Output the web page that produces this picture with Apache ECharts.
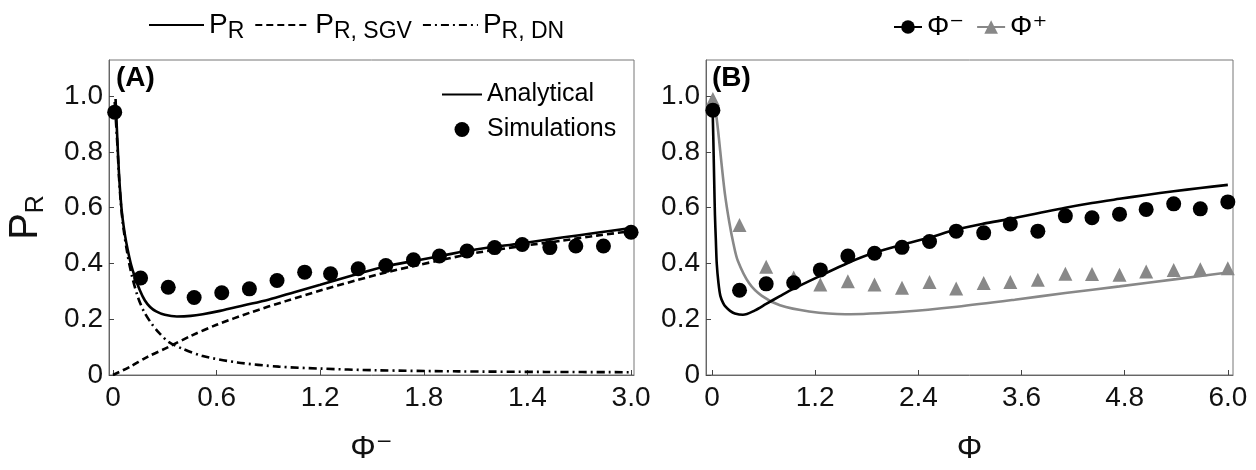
<!DOCTYPE html>
<html><head><meta charset="utf-8">
<script src="https://cdn.jsdelivr.net/npm/echarts@6/dist/echarts.min.js"></script>
<style>html,body{margin:0;padding:0;background:#fff}#c{width:1256px;height:470px}</style>
</head><body><div id="c"></div>
<script>
// ---- tick values / labels ----
const aTickVals = [0, 0.6, 1.2, 1.8, 2.4, 3.0];
const aTickLabels = ['0', '0.6', '1.2', '1.8', '1.4', '3.0'];
const bTickVals = [0, 1.2, 2.4, 3.6, 4.8, 6.0];
const bTickLabels = ['0', '1.2', '2.4', '3.6', '4.8', '6.0'];
const yTickVals = [0, 0.2, 0.4, 0.6, 0.8, 1.0];
const yTickLabels = ['0', '0.2', '0.4', '0.6', '0.8', '1.0'];

// ---- panel A : P_R (analytical, solid) ----
const aPR_x = [0.015,0.025,0.035,0.045,0.055,0.07,0.085,0.105,0.125,0.155,0.184,0.215,0.25,0.3,0.37,0.45,0.52,0.62,0.76,0.9,1.05,1.2,1.4,1.58,1.75,1.92,2.1,2.36,2.6,2.8,3.0];
const aPR_y = [0.99,0.85,0.72,0.63,0.565,0.50,0.45,0.395,0.355,0.305,0.268,0.244,0.228,0.216,0.21,0.212,0.218,0.23,0.25,0.27,0.297,0.324,0.36,0.39,0.41,0.43,0.45,0.472,0.493,0.51,0.527];
// ---- panel A : P_R,SGV (dashed) ----
const aSGV_x = [0,0.1,0.2,0.32,0.45,0.6,0.8,1.0,1.2,1.4,1.58,1.75,1.92,2.1,2.36,2.6,2.8,3.0];
const aSGV_y = [0,0.03,0.065,0.10,0.14,0.18,0.225,0.265,0.303,0.338,0.368,0.392,0.415,0.438,0.462,0.482,0.5,0.516];
// ---- panel A : P_R,DN (dash-dot) ----
const aDN_x = [0.01,0.025,0.035,0.045,0.06,0.085,0.11,0.144,0.18,0.224,0.27,0.324,0.4,0.52,0.72,0.96,1.2,1.52,2.0,2.5,3.0];
const aDN_y = [0.98,0.83,0.71,0.62,0.53,0.43,0.355,0.28,0.227,0.184,0.149,0.118,0.095,0.068,0.045,0.03,0.023,0.017,0.013,0.011,0.01];
// ---- panel A : simulations ----
const aSim_x = [0.01,0.16,0.32,0.47,0.63,0.79,0.95,1.11,1.26,1.42,1.58,1.74,1.89,2.05,2.21,2.37,2.53,2.68,2.84,3.0];
const aSim_y = [0.943,0.348,0.315,0.278,0.295,0.309,0.339,0.369,0.363,0.381,0.393,0.413,0.427,0.445,0.457,0.468,0.457,0.463,0.463,0.512];

// ---- panel B : analytical curves ----
const bMinus_x = [0.005,0.015,0.025,0.034,0.045,0.055,0.075,0.097,0.13,0.16,0.21,0.265,0.36,0.5,0.63,0.79,0.95,1.26,1.58,1.9,2.22,2.52,2.84,3.16,3.47,3.79,4.11,4.42,4.74,5.05,5.37,5.68,6.0];
const bMinus_y = [0.98,0.85,0.70,0.574,0.48,0.40,0.33,0.284,0.258,0.244,0.23,0.221,0.216,0.232,0.255,0.283,0.31,0.356,0.402,0.44,0.468,0.492,0.522,0.543,0.56,0.58,0.6,0.617,0.632,0.646,0.659,0.671,0.682];
const bPlus_x = [0.02,0.05,0.08,0.11,0.15,0.2,0.25,0.3,0.43,0.58,0.79,1.13,1.55,2.26,2.85,3.52,4.11,4.74,5.4,6.0];
const bPlus_y = [0.99,0.93,0.85,0.76,0.65,0.55,0.47,0.41,0.33,0.284,0.25,0.228,0.218,0.228,0.245,0.27,0.294,0.318,0.344,0.368];
// ---- panel B : simulations ----
const bSim_x = [0.01,0.32,0.63,0.95,1.26,1.58,1.89,2.21,2.53,2.84,3.16,3.47,3.79,4.11,4.42,4.74,5.05,5.37,5.68,6.0];
const bSimMinus_y = [0.95,0.304,0.327,0.331,0.377,0.427,0.437,0.458,0.479,0.516,0.51,0.542,0.516,0.571,0.564,0.577,0.594,0.614,0.596,0.621];
const bSimPlus_y = [0.99,0.538,0.388,0.35,0.325,0.336,0.325,0.313,0.334,0.31,0.33,0.334,0.342,0.363,0.362,0.36,0.371,0.377,0.379,0.383];

const zip = (xs, ys) => xs.map((x, i) => [x, ys[i]]);
const FF = "'Liberation Sans', Arial, 'DejaVu Sans', sans-serif";
const pick = (vals, labels) => v => { const i = vals.findIndex(t => Math.abs(t - v) < 1e-9); return i < 0 ? '' : labels[i]; };

const chart = echarts.init(document.getElementById('c'), null, {renderer: 'canvas'});

function xAxisCfg(gi, min, max, vals, labels, name) {
  return {
    gridIndex: gi, type: 'value', min: min, max: max,
    splitLine: {show: false},
    axisLine: {onZero: false, lineStyle: {color: '#666', width: 1}},
    axisTick: {inside: true, length: 5, customValues: vals, lineStyle: {color: '#444'}},
    axisLabel: {customValues: vals, formatter: pick(vals, labels), fontSize: 28, color: '#111', margin: 9, fontFamily: FF},
    name: name, nameLocation: 'middle', nameGap: 58,
    nameTextStyle: {fontSize: 32, color: '#111', fontFamily: FF}
  };
}
function yAxisCfg(gi, withName) {
  const c = {
    gridIndex: gi, type: 'value', min: 0, max: 1.13,
    splitLine: {show: false},
    axisLine: {onZero: false, lineStyle: {color: '#666', width: 1}},
    axisTick: {inside: true, length: 5, customValues: yTickVals, lineStyle: {color: '#444'}},
    axisLabel: {customValues: yTickVals, formatter: pick(yTickVals, yTickLabels), fontSize: 28, color: '#111', margin: 6, fontFamily: FF}
  };
  if (withName) {
    c.name = '{m|P}{s|R}';
    c.nameLocation = 'middle';
    c.nameRotate = 90;
    c.nameGap = 60;
    c.nameTextStyle = {fontFamily: FF, color: '#111', rich: {
      m: {fontSize: 40, lineHeight: 46, fontFamily: FF, color: '#111'},
      s: {fontSize: 25, lineHeight: 25, verticalAlign: 'bottom', fontFamily: FF, color: '#111'}
    }};
  }
  return c;
}

const legendNames = {PR: '{m|P}{s|R}', PRSGV: '{m|P}{s|R, SGV}', PRDN: '{m|P}{s|R, DN}'};
const noSym = {opacity: 0};

const option = {
  backgroundColor: '#fff',
  animation: false,
  title: [
    {text: '(A)', left: 116, top: 64, padding: 0, textStyle: {fontSize: 28, fontWeight: 'bold', fontFamily: FF, color: '#000'}},
    {text: '(B)', left: 712, top: 64, padding: 0, textStyle: {fontSize: 28, fontWeight: 'bold', fontFamily: FF, color: '#000'}}
  ],
  grid: [
    {left: 109, top: 60, width: 525, height: 324, show: true, borderColor: '#777', borderWidth: 1, containLabel: false},
    {left: 706, top: 60, width: 527, height: 324, show: true, borderColor: '#777', borderWidth: 1, containLabel: false}
  ],
  xAxis: [
    xAxisCfg(0, -0.023, 3.017, aTickVals, aTickLabels, 'Φ⁻'),
    xAxisCfg(1, -0.07, 6.06, bTickVals, bTickLabels, 'Φ')
  ],
  yAxis: [yAxisCfg(0, true), yAxisCfg(1, false)],
  legend: [
    {
      data: [{name: 'PR', itemStyle: noSym}, {name: 'PRSGV', itemStyle: noSym}, {name: 'PRDN', itemStyle: noSym}],
      left: 143, top: 6, itemWidth: 55, itemHeight: 14, itemGap: 10,
      selectedMode: false, formatter: n => legendNames[n],
      textStyle: {fontFamily: FF, color: '#000', rich: {
        m: {fontSize: 28, lineHeight: 36, fontFamily: FF, color: '#000'},
        s: {fontSize: 23, lineHeight: 23, verticalAlign: 'bottom', fontFamily: FF, color: '#000'}
      }}
    },
    {
      data: [{name: 'Analytical', itemStyle: noSym}, 'Simulations'], orient: 'vertical', left: 436, top: 77, itemWidth: 40, itemHeight: 15, itemGap: 10,
      selectedMode: false, textStyle: {fontSize: 25, fontFamily: FF, color: '#000'}
    },
    {
      data: ['Φ⁻', 'Φ⁺'], left: 888, top: 8, itemWidth: 28, itemHeight: 17, itemGap: 12,
      selectedMode: false, textStyle: {fontSize: 28, fontFamily: FF, color: '#000'}
    }
  ],
  series: [
    {name: 'PR', type: 'line', xAxisIndex: 0, yAxisIndex: 0, data: zip(aPR_x, aPR_y), smooth: 0.3, symbol: 'none',
     lineStyle: {color: '#000', width: 2.6}, itemStyle: {color: '#000'}, z: 3},
    {name: 'PRSGV', type: 'line', xAxisIndex: 0, yAxisIndex: 0, data: zip(aSGV_x, aSGV_y), smooth: 0.3, symbol: 'none',
     lineStyle: {color: '#000', width: 2.6, type: [7, 4]}, itemStyle: {color: '#000'}, z: 2},
    {name: 'PRDN', type: 'line', xAxisIndex: 0, yAxisIndex: 0, data: zip(aDN_x, aDN_y), smooth: 0.3, symbol: 'none',
     lineStyle: {color: '#000', width: 2.6, type: [8, 4, 2, 4]}, itemStyle: {color: '#000'}, z: 2},
    {name: 'Analytical', type: 'line', xAxisIndex: 0, yAxisIndex: 0, data: [], symbol: 'none',
     lineStyle: {color: '#000', width: 2.6}, itemStyle: {color: '#000'}},
    {name: 'Simulations', type: 'scatter', xAxisIndex: 0, yAxisIndex: 0, data: zip(aSim_x, aSim_y), symbol: 'circle', symbolSize: 15,
     itemStyle: {color: '#000', opacity: 1}, z: 5},

    {name: 'Φ⁻', type: 'line', xAxisIndex: 1, yAxisIndex: 1, data: zip(bMinus_x, bMinus_y), smooth: 0.3, symbol: 'circle', symbolSize: 15, showSymbol: false,
     lineStyle: {color: '#000', width: 2.6}, itemStyle: {color: '#000'}, z: 3},
    {name: 'Φ⁺', type: 'line', xAxisIndex: 1, yAxisIndex: 1, data: zip(bPlus_x, bPlus_y), smooth: 0.3, symbol: 'triangle', symbolSize: 14, showSymbol: false,
     lineStyle: {color: '#888', width: 2.6}, itemStyle: {color: '#888'}, z: 2},
    {name: 'Φ⁺ sim', type: 'scatter', xAxisIndex: 1, yAxisIndex: 1, data: zip(bSim_x, bSimPlus_y), symbol: 'triangle', symbolSize: 14,
     itemStyle: {color: '#888', opacity: 1}, z: 4},
    {name: 'Φ⁻ sim', type: 'scatter', xAxisIndex: 1, yAxisIndex: 1, data: zip(bSim_x, bSimMinus_y), symbol: 'circle', symbolSize: 15,
     itemStyle: {color: '#000', opacity: 1}, z: 5}
  ]
};
chart.setOption(option);
</script>
</body></html>
